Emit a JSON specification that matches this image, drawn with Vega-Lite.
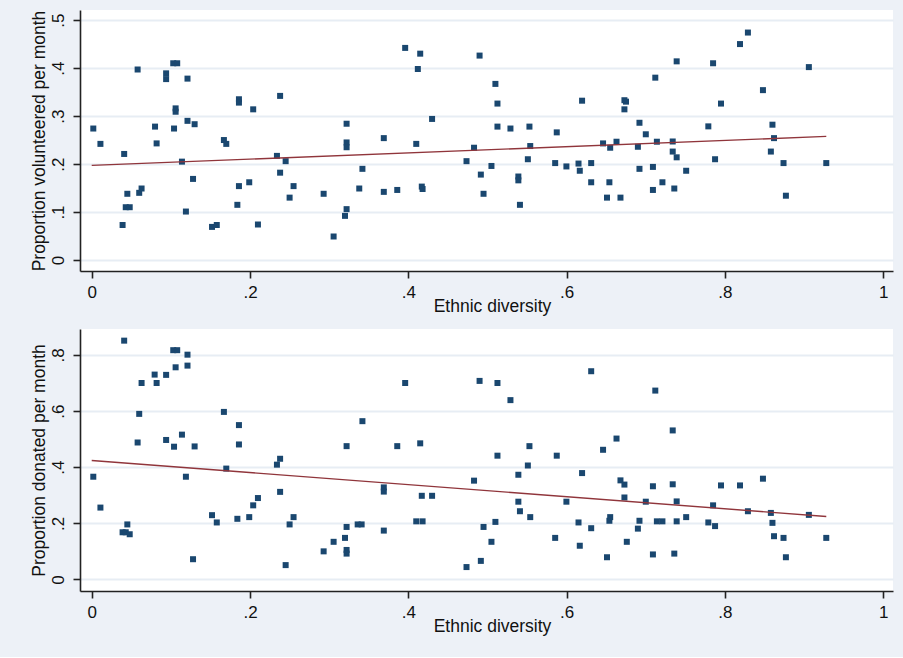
{
  "$schema": "https://vega.github.io/schema/vega-lite/v6.json",
  "background": "#edf1f7",
  "autosize": {"type": "pad"},
  "padding": {"left": 29, "top": 10, "right": 10, "bottom": 22},
  "bounds": "flush",
  "spacing": 58,
  "config": {
    "font": "Liberation Sans",
    "view": {"fill": "white", "stroke": null},
    "axis": {
      "domainColor": "#222222",
      "domainWidth": 1.6,
      "tickColor": "#222222",
      "tickWidth": 1.6,
      "tickSize": 7,
      "labelColor": "#111111",
      "labelFontSize": 17,
      "titleColor": "#111111",
      "titleFontSize": 17.5,
      "titleFontWeight": "normal",
      "gridColor": "#e7edf4",
      "gridWidth": 2,
      "labelExpr": "datum.value == 0 ? '0' : datum.value == 1 ? '1' : slice(format(datum.value, '.1f'), 1)"
    },
    "axisX": {
      "grid": false,
      "labelBaseline": "top",
      "labelPadding": 6,
      "titleBaseline": "alphabetic",
      "titleX": 412,
      "titleY": 40,
      "titleAnchor": "middle"
    },
    "axisY": {
      "grid": true,
      "labelAngle": 270,
      "labelAlign": "center",
      "labelBaseline": "alphabetic",
      "labelPadding": 10,
      "titleAngle": 270,
      "titleBaseline": "alphabetic",
      "titleX": -36
    }
  },
  "datasets": {
    "volunteering": [
      {"diversity": 0.002, "volunteered": 0.274}, {"diversity": 0.011, "volunteered": 0.242},
      {"diversity": 0.039, "volunteered": 0.073}, {"diversity": 0.041, "volunteered": 0.221},
      {"diversity": 0.045, "volunteered": 0.138}, {"diversity": 0.043, "volunteered": 0.110},
      {"diversity": 0.048, "volunteered": 0.110}, {"diversity": 0.058, "volunteered": 0.397},
      {"diversity": 0.060, "volunteered": 0.140}, {"diversity": 0.063, "volunteered": 0.149},
      {"diversity": 0.080, "volunteered": 0.278}, {"diversity": 0.082, "volunteered": 0.243},
      {"diversity": 0.094, "volunteered": 0.389}, {"diversity": 0.094, "volunteered": 0.377},
      {"diversity": 0.103, "volunteered": 0.410}, {"diversity": 0.108, "volunteered": 0.410},
      {"diversity": 0.106, "volunteered": 0.316}, {"diversity": 0.106, "volunteered": 0.309},
      {"diversity": 0.104, "volunteered": 0.274}, {"diversity": 0.114, "volunteered": 0.205},
      {"diversity": 0.121, "volunteered": 0.378}, {"diversity": 0.121, "volunteered": 0.290},
      {"diversity": 0.119, "volunteered": 0.101}, {"diversity": 0.130, "volunteered": 0.283},
      {"diversity": 0.128, "volunteered": 0.169}, {"diversity": 0.152, "volunteered": 0.069},
      {"diversity": 0.158, "volunteered": 0.073}, {"diversity": 0.167, "volunteered": 0.250},
      {"diversity": 0.170, "volunteered": 0.242}, {"diversity": 0.184, "volunteered": 0.115},
      {"diversity": 0.186, "volunteered": 0.335}, {"diversity": 0.186, "volunteered": 0.328},
      {"diversity": 0.186, "volunteered": 0.154}, {"diversity": 0.199, "volunteered": 0.162},
      {"diversity": 0.204, "volunteered": 0.314}, {"diversity": 0.210, "volunteered": 0.074},
      {"diversity": 0.238, "volunteered": 0.342}, {"diversity": 0.234, "volunteered": 0.217},
      {"diversity": 0.238, "volunteered": 0.182}, {"diversity": 0.245, "volunteered": 0.206},
      {"diversity": 0.250, "volunteered": 0.130}, {"diversity": 0.255, "volunteered": 0.154},
      {"diversity": 0.293, "volunteered": 0.138}, {"diversity": 0.3056, "volunteered": 0.049},
      {"diversity": 0.322, "volunteered": 0.284}, {"diversity": 0.322, "volunteered": 0.245},
      {"diversity": 0.322, "volunteered": 0.235}, {"diversity": 0.322, "volunteered": 0.106},
      {"diversity": 0.320, "volunteered": 0.092}, {"diversity": 0.342, "volunteered": 0.190},
      {"diversity": 0.338, "volunteered": 0.149}, {"diversity": 0.369, "volunteered": 0.254},
      {"diversity": 0.369, "volunteered": 0.142}, {"diversity": 0.386, "volunteered": 0.146},
      {"diversity": 0.396, "volunteered": 0.442}, {"diversity": 0.415, "volunteered": 0.430},
      {"diversity": 0.412, "volunteered": 0.398}, {"diversity": 0.410, "volunteered": 0.242},
      {"diversity": 0.417, "volunteered": 0.153}, {"diversity": 0.418, "volunteered": 0.148},
      {"diversity": 0.430, "volunteered": 0.294}, {"diversity": 0.4735, "volunteered": 0.206},
      {"diversity": 0.490, "volunteered": 0.426}, {"diversity": 0.483, "volunteered": 0.234},
      {"diversity": 0.4916, "volunteered": 0.178}, {"diversity": 0.495, "volunteered": 0.138},
      {"diversity": 0.505, "volunteered": 0.196}, {"diversity": 0.510, "volunteered": 0.367},
      {"diversity": 0.5126, "volunteered": 0.326}, {"diversity": 0.5126, "volunteered": 0.278},
      {"diversity": 0.529, "volunteered": 0.274}, {"diversity": 0.539, "volunteered": 0.174},
      {"diversity": 0.539, "volunteered": 0.166}, {"diversity": 0.541, "volunteered": 0.115},
      {"diversity": 0.553, "volunteered": 0.278}, {"diversity": 0.554, "volunteered": 0.2375},
      {"diversity": 0.551, "volunteered": 0.210}, {"diversity": 0.5875, "volunteered": 0.266},
      {"diversity": 0.5855, "volunteered": 0.202}, {"diversity": 0.5997, "volunteered": 0.195},
      {"diversity": 0.615, "volunteered": 0.201}, {"diversity": 0.6166, "volunteered": 0.186},
      {"diversity": 0.6195, "volunteered": 0.332}, {"diversity": 0.631, "volunteered": 0.202},
      {"diversity": 0.631, "volunteered": 0.162}, {"diversity": 0.646, "volunteered": 0.243},
      {"diversity": 0.655, "volunteered": 0.234}, {"diversity": 0.663, "volunteered": 0.2465},
      {"diversity": 0.654, "volunteered": 0.162}, {"diversity": 0.651, "volunteered": 0.130},
      {"diversity": 0.668, "volunteered": 0.130}, {"diversity": 0.673, "volunteered": 0.333},
      {"diversity": 0.675, "volunteered": 0.330}, {"diversity": 0.673, "volunteered": 0.314},
      {"diversity": 0.690, "volunteered": 0.236}, {"diversity": 0.692, "volunteered": 0.286},
      {"diversity": 0.700, "volunteered": 0.262}, {"diversity": 0.692, "volunteered": 0.190},
      {"diversity": 0.714, "volunteered": 0.2465}, {"diversity": 0.712, "volunteered": 0.380},
      {"diversity": 0.709, "volunteered": 0.194}, {"diversity": 0.709, "volunteered": 0.146},
      {"diversity": 0.721, "volunteered": 0.162}, {"diversity": 0.734, "volunteered": 0.247},
      {"diversity": 0.734, "volunteered": 0.226}, {"diversity": 0.739, "volunteered": 0.214},
      {"diversity": 0.739, "volunteered": 0.414}, {"diversity": 0.736, "volunteered": 0.149},
      {"diversity": 0.751, "volunteered": 0.186}, {"diversity": 0.779, "volunteered": 0.2785},
      {"diversity": 0.785, "volunteered": 0.410}, {"diversity": 0.7875, "volunteered": 0.210},
      {"diversity": 0.795, "volunteered": 0.326}, {"diversity": 0.819, "volunteered": 0.450},
      {"diversity": 0.829, "volunteered": 0.474}, {"diversity": 0.848, "volunteered": 0.354},
      {"diversity": 0.860, "volunteered": 0.282}, {"diversity": 0.862, "volunteered": 0.254},
      {"diversity": 0.858, "volunteered": 0.226}, {"diversity": 0.874, "volunteered": 0.202},
      {"diversity": 0.877, "volunteered": 0.134}, {"diversity": 0.906, "volunteered": 0.402},
      {"diversity": 0.928, "volunteered": 0.202}
    ],
    "volunteeringFit": [
      {"diversity": 0.0, "fitted": 0.1972},
      {"diversity": 0.928, "fitted": 0.2576}
    ],
    "donating": [
      {"diversity": 0.002, "donated": 0.366}, {"diversity": 0.011, "donated": 0.256},
      {"diversity": 0.041, "donated": 0.851}, {"diversity": 0.039, "donated": 0.168},
      {"diversity": 0.045, "donated": 0.196}, {"diversity": 0.043, "donated": 0.168},
      {"diversity": 0.048, "donated": 0.161}, {"diversity": 0.058, "donated": 0.488},
      {"diversity": 0.060, "donated": 0.590}, {"diversity": 0.063, "donated": 0.700},
      {"diversity": 0.0795, "donated": 0.730}, {"diversity": 0.082, "donated": 0.700},
      {"diversity": 0.094, "donated": 0.729}, {"diversity": 0.094, "donated": 0.497},
      {"diversity": 0.103, "donated": 0.817}, {"diversity": 0.108, "donated": 0.817},
      {"diversity": 0.106, "donated": 0.756}, {"diversity": 0.104, "donated": 0.473},
      {"diversity": 0.114, "donated": 0.516}, {"diversity": 0.121, "donated": 0.801},
      {"diversity": 0.121, "donated": 0.762}, {"diversity": 0.119, "donated": 0.366},
      {"diversity": 0.130, "donated": 0.474}, {"diversity": 0.128, "donated": 0.072},
      {"diversity": 0.152, "donated": 0.229}, {"diversity": 0.158, "donated": 0.203},
      {"diversity": 0.167, "donated": 0.597}, {"diversity": 0.170, "donated": 0.395},
      {"diversity": 0.184, "donated": 0.216}, {"diversity": 0.186, "donated": 0.550},
      {"diversity": 0.186, "donated": 0.481}, {"diversity": 0.199, "donated": 0.222},
      {"diversity": 0.204, "donated": 0.264}, {"diversity": 0.210, "donated": 0.290},
      {"diversity": 0.238, "donated": 0.430}, {"diversity": 0.234, "donated": 0.409},
      {"diversity": 0.238, "donated": 0.312}, {"diversity": 0.245, "donated": 0.051},
      {"diversity": 0.250, "donated": 0.196}, {"diversity": 0.255, "donated": 0.222},
      {"diversity": 0.293, "donated": 0.100}, {"diversity": 0.3056, "donated": 0.134},
      {"diversity": 0.322, "donated": 0.475}, {"diversity": 0.322, "donated": 0.187},
      {"diversity": 0.320, "donated": 0.148}, {"diversity": 0.322, "donated": 0.105},
      {"diversity": 0.322, "donated": 0.092}, {"diversity": 0.342, "donated": 0.564},
      {"diversity": 0.336, "donated": 0.196}, {"diversity": 0.341, "donated": 0.196},
      {"diversity": 0.369, "donated": 0.328}, {"diversity": 0.369, "donated": 0.313},
      {"diversity": 0.369, "donated": 0.174}, {"diversity": 0.386, "donated": 0.475},
      {"diversity": 0.396, "donated": 0.700}, {"diversity": 0.415, "donated": 0.485},
      {"diversity": 0.417, "donated": 0.298}, {"diversity": 0.430, "donated": 0.298},
      {"diversity": 0.410, "donated": 0.207}, {"diversity": 0.418, "donated": 0.207},
      {"diversity": 0.4735, "donated": 0.044}, {"diversity": 0.483, "donated": 0.352},
      {"diversity": 0.490, "donated": 0.7075}, {"diversity": 0.4916, "donated": 0.066},
      {"diversity": 0.495, "donated": 0.187}, {"diversity": 0.505, "donated": 0.134},
      {"diversity": 0.510, "donated": 0.205}, {"diversity": 0.5126, "donated": 0.700},
      {"diversity": 0.5126, "donated": 0.441}, {"diversity": 0.529, "donated": 0.639},
      {"diversity": 0.539, "donated": 0.373}, {"diversity": 0.539, "donated": 0.277},
      {"diversity": 0.541, "donated": 0.243}, {"diversity": 0.553, "donated": 0.475},
      {"diversity": 0.551, "donated": 0.406}, {"diversity": 0.554, "donated": 0.222},
      {"diversity": 0.5875, "donated": 0.441}, {"diversity": 0.5855, "donated": 0.148},
      {"diversity": 0.5997, "donated": 0.277}, {"diversity": 0.615, "donated": 0.203},
      {"diversity": 0.6166, "donated": 0.120}, {"diversity": 0.6195, "donated": 0.379},
      {"diversity": 0.631, "donated": 0.742}, {"diversity": 0.631, "donated": 0.1825},
      {"diversity": 0.646, "donated": 0.462}, {"diversity": 0.663, "donated": 0.502},
      {"diversity": 0.654, "donated": 0.209}, {"diversity": 0.655, "donated": 0.222},
      {"diversity": 0.651, "donated": 0.079}, {"diversity": 0.676, "donated": 0.134},
      {"diversity": 0.668, "donated": 0.353}, {"diversity": 0.673, "donated": 0.338},
      {"diversity": 0.673, "donated": 0.292}, {"diversity": 0.700, "donated": 0.277},
      {"diversity": 0.692, "donated": 0.209}, {"diversity": 0.690, "donated": 0.181},
      {"diversity": 0.712, "donated": 0.673}, {"diversity": 0.709, "donated": 0.332},
      {"diversity": 0.714, "donated": 0.207}, {"diversity": 0.721, "donated": 0.207},
      {"diversity": 0.709, "donated": 0.089}, {"diversity": 0.734, "donated": 0.531},
      {"diversity": 0.734, "donated": 0.339}, {"diversity": 0.739, "donated": 0.278},
      {"diversity": 0.739, "donated": 0.207}, {"diversity": 0.736, "donated": 0.092},
      {"diversity": 0.751, "donated": 0.222}, {"diversity": 0.779, "donated": 0.203},
      {"diversity": 0.785, "donated": 0.264}, {"diversity": 0.7875, "donated": 0.190},
      {"diversity": 0.795, "donated": 0.335}, {"diversity": 0.819, "donated": 0.335},
      {"diversity": 0.829, "donated": 0.243}, {"diversity": 0.848, "donated": 0.359},
      {"diversity": 0.858, "donated": 0.237}, {"diversity": 0.860, "donated": 0.2016},
      {"diversity": 0.862, "donated": 0.154}, {"diversity": 0.874, "donated": 0.148},
      {"diversity": 0.877, "donated": 0.079}, {"diversity": 0.906, "donated": 0.230},
      {"diversity": 0.928, "donated": 0.148}
    ],
    "donatingFit": [
      {"diversity": 0.0, "fitted": 0.4236},
      {"diversity": 0.928, "fitted": 0.2243}
    ]
  },
  "vconcat": [
    {
      "width": 813,
      "height": 261,
      "layer": [
        {
          "data": {"name": "volunteering"},
          "mark": {"type": "point", "shape": "square", "filled": true, "size": 36, "color": "#1a476f", "opacity": 1},
          "encoding": {
            "x": {"field": "diversity", "type": "quantitative",
                  "scale": {"domain": [-0.0148, 1.0123], "nice": false, "zero": false},
                  "axis": {"values": [0, 0.2, 0.4, 0.6, 0.8, 1], "title": "Ethnic diversity"}},
            "y": {"field": "volunteered", "type": "quantitative",
                  "scale": {"domain": [-0.0229, 0.521], "nice": false, "zero": false},
                  "axis": {"values": [0, 0.1, 0.2, 0.3, 0.4, 0.5], "title": "Proportion volunteered per month"}}
          }
        },
        {
          "data": {"name": "volunteeringFit"},
          "mark": {"type": "line", "color": "#90353b", "strokeWidth": 1.4},
          "encoding": {
            "x": {"field": "diversity", "type": "quantitative"},
            "y": {"field": "fitted", "type": "quantitative"}
          }
        }
      ]
    },
    {
      "width": 813,
      "height": 262,
      "layer": [
        {
          "data": {"name": "donating"},
          "mark": {"type": "point", "shape": "square", "filled": true, "size": 36, "color": "#1a476f", "opacity": 1},
          "encoding": {
            "x": {"field": "diversity", "type": "quantitative",
                  "scale": {"domain": [-0.0148, 1.0123], "nice": false, "zero": false},
                  "axis": {"values": [0, 0.2, 0.4, 0.6, 0.8, 1], "title": "Ethnic diversity"}},
            "y": {"field": "donated", "type": "quantitative",
                  "scale": {"domain": [-0.0413, 0.8925], "nice": false, "zero": false},
                  "axis": {"values": [0, 0.2, 0.4, 0.6, 0.8], "title": "Proportion donated per month"}}
          }
        },
        {
          "data": {"name": "donatingFit"},
          "mark": {"type": "line", "color": "#90353b", "strokeWidth": 1.4},
          "encoding": {
            "x": {"field": "diversity", "type": "quantitative"},
            "y": {"field": "fitted", "type": "quantitative"}
          }
        }
      ]
    }
  ]
}
